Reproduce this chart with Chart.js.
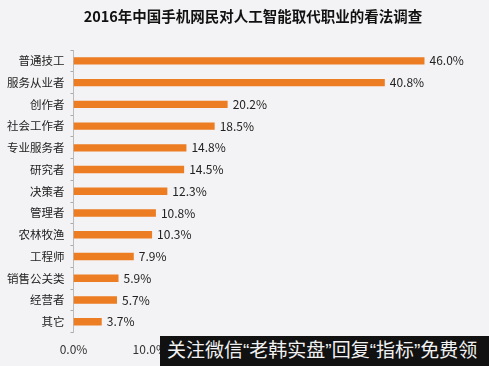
<!DOCTYPE html>
<html>
<head>
<meta charset="utf-8">
<script src="https://cdn.jsdelivr.net/npm/chart.js@4"></script>
<style>
  html, body { margin: 0; padding: 0; background: #f3f2f4; }
  #wrap { position: relative; width: 489px; height: 366px; }
  #banner {
    position: absolute; left: 160px; top: 336px; width: 329px; height: 30px;
    background: #111; color: #f2f2f2;
    font: 19px 'Liberation Sans', 'Noto Sans CJK SC', sans-serif;
    line-height: 30px; padding-left: 7px; box-sizing: border-box; white-space: nowrap; overflow: hidden;
  }
</style>
</head>
<body>
<div id="wrap">
  <canvas id="c" width="489" height="366"></canvas>
  <div id="banner">关注微信“老韩实盘”回复“指标”免费领</div>
</div>
<script>
// ── Data ────────────────────────────────────────────────────────────────────
const CATEGORIES = ['普通技工', '服务从业者', '创作者', '社会工作者', '专业服务者', '研究者',
  '决策者', '管理者', '农林牧渔', '工程师', '销售公关类', '经营者', '其它'];
const VALUES = [46.0, 40.8, 20.2, 18.5, 14.8, 14.5, 12.3, 10.8, 10.3, 7.9, 5.9, 5.7, 3.7];
const TITLE = '2016年中国手机网民对人工智能取代职业的看法调查';

const FONT = "'Noto Sans CJK SC', 'Noto Sans', sans-serif";
const ORANGE = '#ed7d22';

// title drawn by hand: the original sits a little right of centre
const titlePlugin = {
  id: 'titlePlugin',
  afterDraw(chart) {
    const ctx = chart.ctx;
    ctx.save();
    ctx.font = 'bold 14.5px ' + FONT;
    ctx.fillStyle = '#111';
    ctx.textAlign = 'center';
    ctx.textBaseline = 'middle';
    ctx.fillText(TITLE, 253, 16);
    ctx.restore();
  },
};

// draws "46.0%" etc. just past the bar end
const valueLabels = {
  id: 'valueLabels',
  afterDatasetsDraw(chart) {
    const ctx = chart.ctx;
    const meta = chart.getDatasetMeta(0);
    ctx.save();
    ctx.font = '12px ' + FONT;
    ctx.fillStyle = '#222';
    ctx.textBaseline = 'middle';
    meta.data.forEach((bar, i) => {
      ctx.fillText(VALUES[i].toFixed(1) + '%', bar.x + 5, bar.y);
    });
    ctx.restore();
  },
};

new Chart(document.getElementById('c'), {
  type: 'bar',
  data: {
    labels: CATEGORIES,
    datasets: [{
      data: VALUES,
      backgroundColor: ORANGE,
      barPercentage: 0.34,
      categoryPercentage: 1,
    }],
  },
  options: {
    indexAxis: 'y',
    responsive: false,
    animation: false,
    layout: { padding: { left: 1, right: 34, top: 50, bottom: 7 } },
    plugins: {
      legend: { display: false },
      tooltip: { enabled: false },
      title: { display: false },
    },
    scales: {
      x: {
        min: 0,
        max: 50,
        ticks: {
          stepSize: 10,
          color: '#333',
          font: { family: FONT, size: 12 },
          callback: v => v.toFixed(1) + '%',
          padding: 2,
        },
        grid: { display: false },
        border: { display: false },
      },
      y: {
        ticks: { color: '#222', font: { family: FONT, size: 11.5 }, padding: 6 },
        grid: { drawOnChartArea: false, drawTicks: true, tickLength: 3, offset: true, color: '#aaa' },
        border: { display: true, color: '#bbb' },
      },
    },
  },
  plugins: [valueLabels, titlePlugin],
});
</script>
</body>
</html>
